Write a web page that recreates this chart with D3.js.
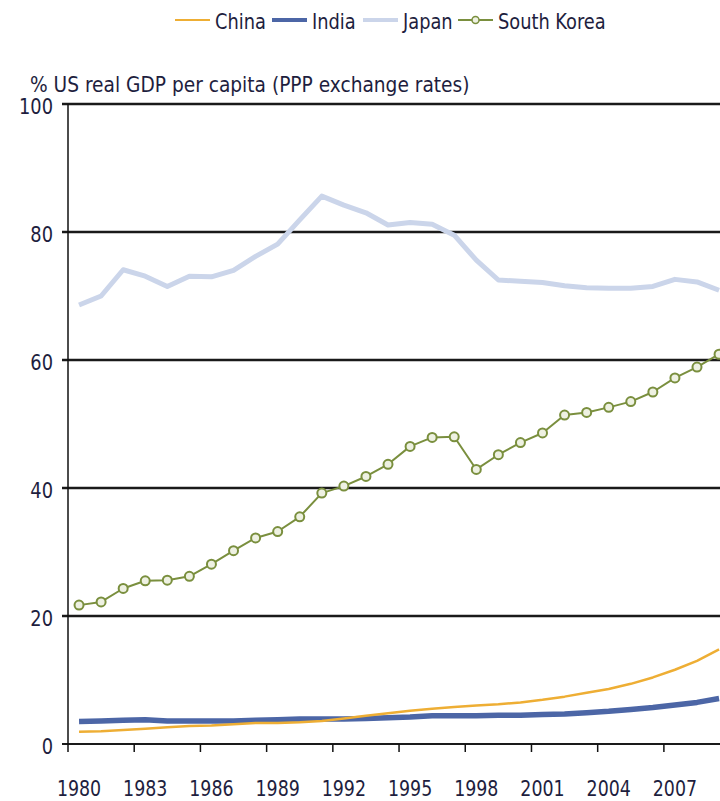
<!DOCTYPE html>
<html>
<head>
<meta charset="utf-8">
<script src="https://cdn.jsdelivr.net/npm/d3@7"></script>
<style>
  body { margin: 0; background: #fff; }
  svg { display: block; }
</style>
</head>
<body>
<div id="chart"></div>
<script>
var width = 720;
var height = 801;

// dati
var years = d3.range(1980, 2010);
var yTicks = [0, 20, 40, 60, 80, 100];
var xTickYears = [1980, 1983, 1986, 1989, 1992, 1995, 1998, 2001, 2004, 2007];

var china = [1.9, 2.0, 2.2, 2.4, 2.6, 2.8, 2.9, 3.1, 3.3, 3.3, 3.4, 3.6, 4.0, 4.4, 4.8,
             5.2, 5.5, 5.8, 6.0, 6.2, 6.5, 6.9, 7.4, 8.0, 8.6, 9.4, 10.4, 11.6, 13.0, 14.8];
var india = [3.5, 3.6, 3.7, 3.8, 3.6, 3.6, 3.6, 3.6, 3.7, 3.8, 3.9, 3.9, 3.9, 4.0, 4.1,
             4.2, 4.4, 4.4, 4.4, 4.5, 4.5, 4.6, 4.7, 4.9, 5.1, 5.4, 5.7, 6.1, 6.5, 7.1];
var japan = [68.6, 70.0, 74.1, 73.1, 71.5, 73.1, 73.0, 74.0, 76.2, 78.1, 81.9, 85.6, 84.2, 83.0, 81.1,
             81.5, 81.2, 79.5, 75.6, 72.5, 72.3, 72.1, 71.6, 71.3, 71.2, 71.2, 71.5, 72.6, 72.2, 70.9];
var korea = [21.7, 22.2, 24.3, 25.5, 25.6, 26.2, 28.1, 30.2, 32.2, 33.2, 35.5, 39.2, 40.3, 41.8, 43.7,
             46.5, 47.9, 48.0, 42.9, 45.2, 47.1, 48.6, 51.4, 51.8, 52.6, 53.5, 55.0, 57.2, 58.9, 60.9];

var series = [
    { name: "China", values: china, color: "#eeae34", width: 2.5, marker: false },
    { name: "India", values: india, color: "#4c66a6", width: 5.5, marker: false },
    { name: "Japan", values: japan, color: "#cbd5ea", width: 5, marker: false },
    { name: "South Korea", values: korea, color: "#7a8f3e", width: 2, marker: true }
];

var font = "'DejaVu Sans Condensed', 'DejaVu Sans', sans-serif";
var textColor = "#1e1e3e";
var fontSize = "22px";

// margini dell'area del grafico ("top" non si può usare, è window.top)
var plotLeft = 68, plotTop = 104, plotBottom = 744;

var svg = d3.select("#chart")
            .append("svg")
            .attr("width", width)
            .attr("height", height)
            .style("font-family", font);

var x = d3.scaleBand()
          .domain(years)
          .range([plotLeft, plotLeft + years.length * 22.07])
          .padding(0);

var y = d3.scaleLinear()
          .domain([0, 100])
          .range([plotBottom, plotTop]);

function cx(i) { return x(years[i]) + x.bandwidth() / 2; }

// testo stretto come nell'originale (font alto e compresso)
function squeeze(fx, fy, k) {
    return function(d, i) {
        return "translate(" + fx(d, i) + "," + fy(d, i) + ") scale(" + k + ",1)";
    };
}

// griglia orizzontale
svg.append("g")
   .selectAll("line")
   .data(yTicks)
   .enter()
   .append("line")
   .attr("x1", plotLeft - 6)
   .attr("x2", width)
   .attr("y1", function(d) { return y(d); })
   .attr("y2", function(d) { return y(d); })
   .attr("stroke", "#1a1a1a")
   .attr("stroke-width", function(d) { return d === 0 ? 2 : 2.5; });

// asse y
svg.append("line")
   .attr("x1", plotLeft).attr("x2", plotLeft)
   .attr("y1", plotTop).attr("y2", plotBottom)
   .attr("stroke", "#111")
   .attr("stroke-width", 1.5);

svg.append("g")
   .selectAll("text")
   .data(yTicks)
   .enter()
   .append("text")
   .attr("transform", squeeze(function() { return 53; }, function(d) { return y(d) + 2; }, 0.9))
   .attr("dy", "0.35em")
   .attr("text-anchor", "end")
   .attr("fill", textColor)
   .style("font-size", fontSize)
   .text(function(d) { return d; });

// tacche asse x (tra le categorie)
svg.append("g")
   .selectAll("line")
   .data(xTickYears)
   .enter()
   .append("line")
   .attr("x1", function(d) { return x(d); })
   .attr("x2", function(d) { return x(d); })
   .attr("y1", plotBottom)
   .attr("y2", plotBottom + 8)
   .attr("stroke", "#111")
   .attr("stroke-width", 1.5);

svg.append("g")
   .selectAll("text")
   .data(xTickYears)
   .enter()
   .append("text")
   .attr("transform", squeeze(function(d) { return x(d) + x.bandwidth() / 2; }, function() { return 796; }, 0.88))
   .attr("text-anchor", "middle")
   .attr("fill", textColor)
   .style("font-size", fontSize)
   .text(function(d) { return d; });

// titolo asse
svg.append("text")
   .attr("transform", "translate(30,92) scale(0.94,1)")
   .attr("fill", textColor)
   .style("font-size", fontSize)
   .text("% US real GDP per capita (PPP exchange rates)");

// linee
var line = d3.line()
             .x(function(d, i) { return cx(i); })
             .y(function(d) { return y(d); });

var order = [series[2], series[1], series[0], series[3]];

order.forEach(function(s) {
    svg.append("path")
       .datum(s.values)
       .attr("fill", "none")
       .attr("stroke", s.color)
       .attr("stroke-width", s.width)
       .attr("stroke-linejoin", "round")
       .attr("d", line);

    if (s.marker) {
        svg.append("g")
           .selectAll("circle")
           .data(s.values)
           .enter()
           .append("circle")
           .attr("cx", function(d, i) { return cx(i); })
           .attr("cy", function(d) { return y(d); })
           .attr("r", 4.5)
           .attr("fill", "#eef1e2")
           .attr("stroke", s.color)
           .attr("stroke-width", 2);
    }
});

// legenda
var legendX = [175, 272, 363, 458];
var legend = svg.append("g")
                .selectAll("g")
                .data(series)
                .enter()
                .append("g")
                .attr("transform", function(d, i) { return "translate(" + legendX[i] + ",20)"; });

legend.append("line")
      .attr("x1", 0).attr("x2", 35)
      .attr("y1", 0).attr("y2", 0)
      .attr("stroke", function(d) { return d.color; })
      .attr("stroke-width", function(d) { return d.width >= 5 ? 4 : 2; });

legend.filter(function(d) { return d.marker; })
      .append("circle")
      .attr("cx", 17.5).attr("cy", 0)
      .attr("r", 3.5)
      .attr("fill", "#eef1e2")
      .attr("stroke", function(d) { return d.color; })
      .attr("stroke-width", 1.5);

legend.append("text")
      .attr("transform", "translate(40,1) scale(0.9,1)")
      .attr("dy", "0.35em")
      .attr("fill", textColor)
      .style("font-size", fontSize)
      .text(function(d) { return d.name; });
</script>
</body>
</html>
